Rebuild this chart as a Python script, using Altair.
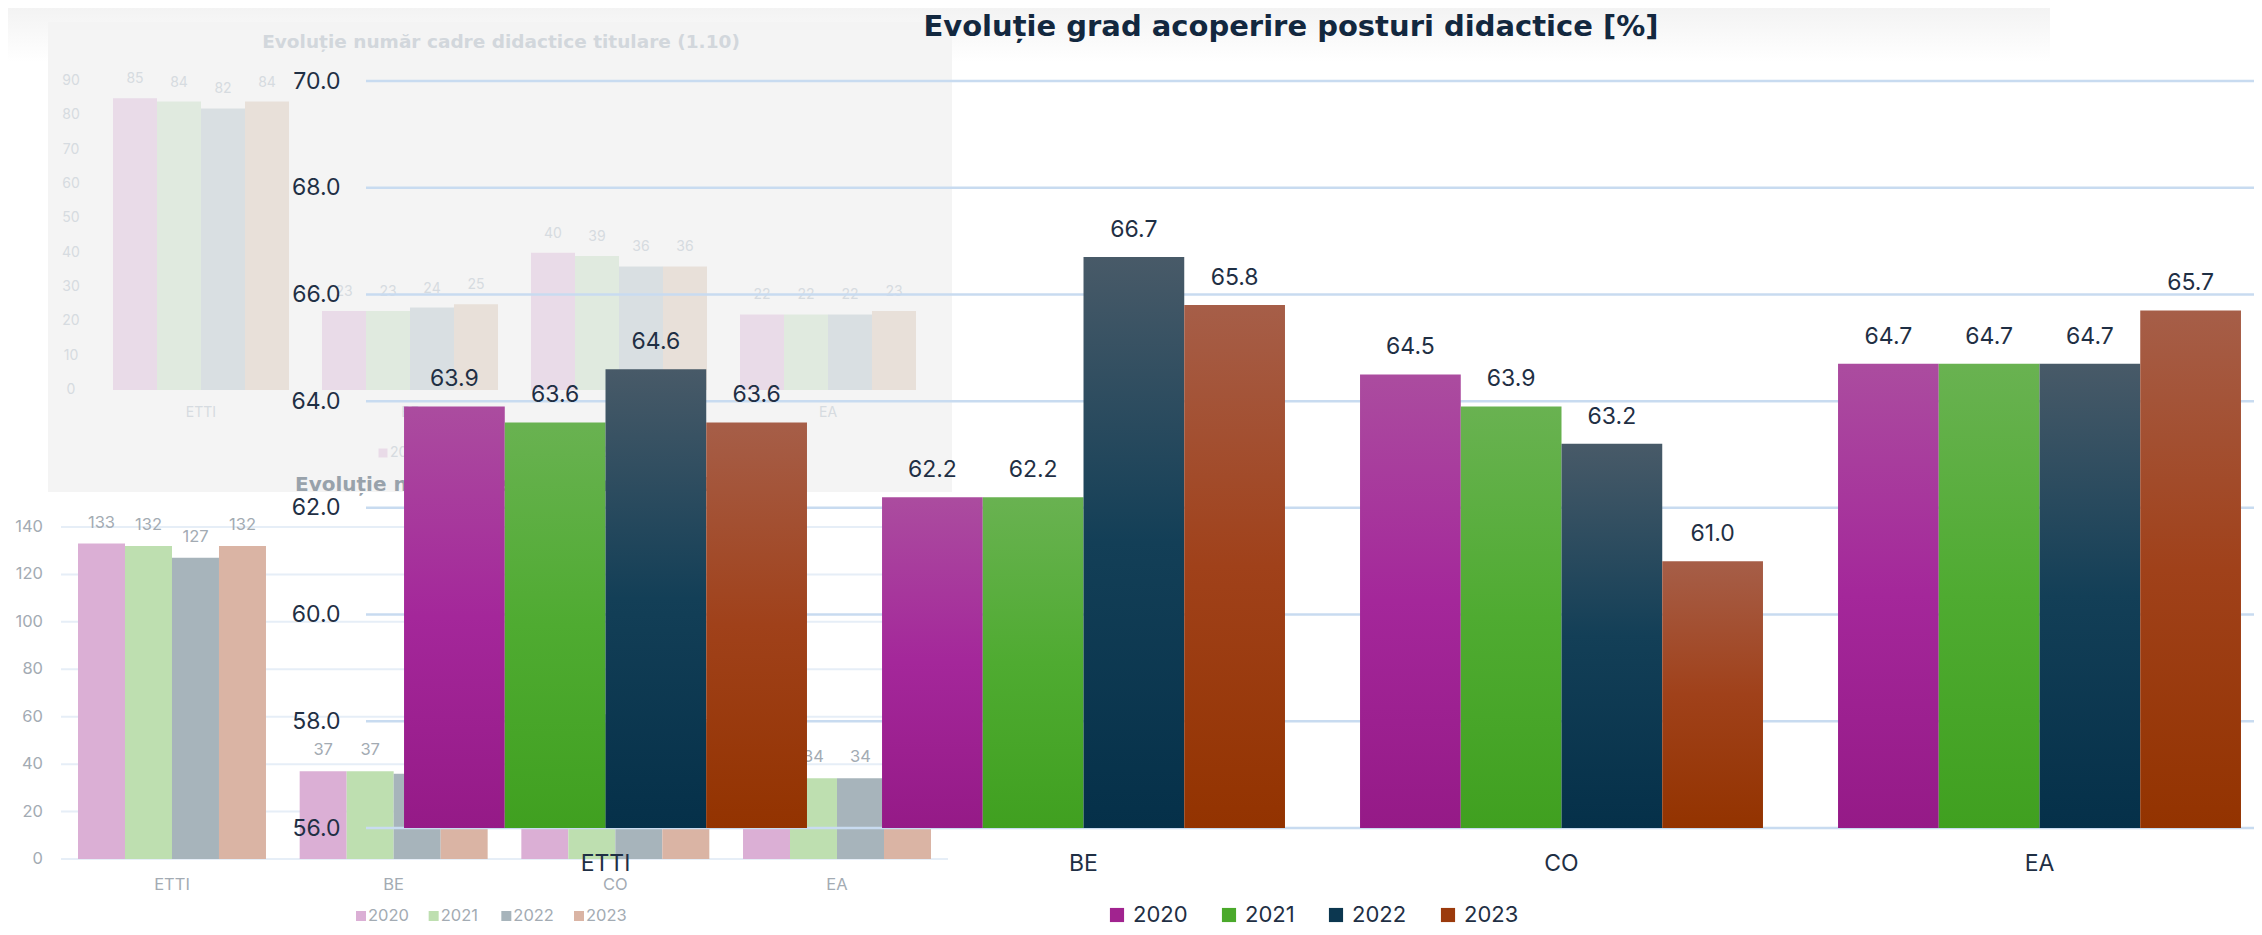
import altair as alt
import pandas as pd

# ---------------- data ----------------
categories = ["ETTI", "BE", "CO", "EA"]
years = ["2020", "2021", "2022", "2023"]

# main chart: coverage of teaching posts [%]
coverage_2020 = [63.9, 62.2, 64.5, 64.7]
coverage_2021 = [63.6, 62.2, 63.9, 64.7]
coverage_2022 = [64.6, 66.7, 63.2, 64.7]
coverage_2023 = [63.6, 65.8, 61.0, 65.7]
coverage_ticks = [56, 58, 60, 62, 64, 66, 68, 70]

# background chart 1: tenured teaching staff
titular_2020 = [85, 23, 40, 22]
titular_2021 = [84, 23, 39, 22]
titular_2022 = [82, 24, 36, 22]
titular_2023 = [84, 25, 36, 23]
titular_ticks = [0, 10, 20, 30, 40, 50, 60, 70, 80, 90]

# background chart 2: teaching posts
posts_2020 = [133, 37, 62, 34]
posts_2021 = [132, 37, 61, 34]
posts_2022 = [127, 36, 57, 34]
posts_2023 = [132, 38, 59, 35]
posts_ticks = [0, 20, 40, 60, 80, 100, 120, 140]

main_title = "Evoluție grad acoperire posturi didactice [%]"
bg1_title = "Evoluție număr cadre didactice titulare (1.10)"
bg2_title = "Evoluție număr posturi didactice (1.10)"

# ---------------- styles ----------------
FONT = "Inter"
TITLE_FONT = "DejaVu Sans"
TEXT = "#1f2f44"
main_colors = ["#a1238f", "#4aa92b", "#0c3750", "#9b3a0c"]
main_grad = {
    "2020": ["#ab4c9f", "#a4279a", "#951a87"],
    "2021": ["#69b251", "#4fab31", "#40a020"],
    "2022": ["#485a68", "#133f57", "#053049"],
    "2023": ["#a65e48", "#a0411a", "#933300"],
}
bg1_colors = ["#e9dbe8", "#e0eadf", "#d9dfe2", "#e8e0d9"]
bg1_text = "#d6dbe0"
bg2_colors = ["#dbafd5", "#bedfb0", "#a7b4bb", "#dab4a4"]
bg2_text = "#a3abb3"

# page position of main plot origin
OX, OY = 366, 81
W, H = 1888, 747


def X(p):
    return p - OX


def Y(p):
    return p - OY


def long(series):
    rows = []
    for yr, vals in zip(years, series):
        for c, v in zip(categories, vals):
            rows.append({"category": c, "year": yr, "value": v})
    return pd.DataFrame(rows)


one = pd.DataFrame({"k": [0]})

# ---------------- haze at top ----------------
haze = alt.Chart(one).mark_rect(
    color=alt.Gradient(gradient="linear",
                       stops=[alt.GradientStop(color="#f3f3f3", offset=0),
                              alt.GradientStop(color="#ffffff", offset=1)],
                       x1=0, x2=0, y1=0, y2=1)
).encode(x=alt.value(X(0)), x2=alt.value(X(2050)), y=alt.value(Y(8)), y2=alt.value(Y(62)))

# ---------------- background chart 1 ----------------
bg1_df = long([titular_2020, titular_2021, titular_2022, titular_2023])
bg1_xs = alt.Scale(domain=categories, range=[X(113), X(916)], paddingInner=0.158, paddingOuter=0)
bg1_ys = alt.Scale(domain=[0, 90], range=[Y(390), Y(81)], nice=False, zero=False)
bg1_x = alt.X("category:N", sort=categories, scale=bg1_xs, axis=None)
bg1_off = alt.XOffset("year:N", sort=years, scale=alt.Scale(domain=years, paddingInner=0, paddingOuter=0))
bg1_y = alt.Y("value:Q", scale=bg1_ys, axis=None)

bg1_panel = alt.Chart(one).mark_rect(color="#f4f4f4").encode(
    x=alt.value(X(48)), x2=alt.value(X(952)), y=alt.value(Y(22)), y2=alt.value(Y(492)))
bg1_bars = alt.Chart(bg1_df).mark_bar().encode(
    x=bg1_x, xOffset=bg1_off, y=bg1_y,
    color=alt.Color("year:N", scale=alt.Scale(domain=years, range=bg1_colors), legend=None))
bg1_vals = alt.Chart(bg1_df).mark_text(dy=-19, fontSize=14, font=FONT, color=bg1_text).encode(
    x=bg1_x, xOffset=bg1_off, y=bg1_y, text="value:Q")
bg1_ticks = alt.Chart(pd.DataFrame({"tick": titular_ticks})).mark_text(
    fontSize=14, font=FONT, color=bg1_text, align="center").encode(
    x=alt.value(X(71)), y=alt.Y("tick:Q", scale=bg1_ys, axis=None), text="tick:Q")
bg1_cats = alt.Chart(pd.DataFrame({"category": categories})).mark_text(
    fontSize=14, font=FONT, color=bg1_text).encode(x=bg1_x, y=alt.value(Y(413)), text="category:N")
bg1_ttl = alt.Chart(pd.DataFrame({"t": [bg1_title]})).mark_text(
    fontSize=18.5, fontWeight="bold", font=TITLE_FONT, color="#d2d7dc").encode(
    x=alt.value(X(501)), y=alt.value(Y(42)), text="t:N")
bg1 = alt.layer(bg1_panel, bg1_bars, bg1_vals, bg1_ticks, bg1_cats, bg1_ttl)

bg1_lx = alt.X("year:N", sort=years, scale=alt.Scale(type="point", domain=years,
                                                    range=[X(383), X(575)], padding=0), axis=None)
bg1_leg = alt.layer(
    alt.Chart(pd.DataFrame({"year": years})).mark_square(size=80, opacity=1).encode(
        x=bg1_lx, y=alt.value(Y(453)),
        color=alt.Color("year:N", scale=alt.Scale(domain=years, range=bg1_colors), legend=None)),
    alt.Chart(pd.DataFrame({"year": years})).mark_text(
        align="left", dx=7, fontSize=14, font=FONT, color=bg1_text).encode(
        x=bg1_lx, y=alt.value(Y(453)), text="year:N"),
)

# ---------------- background chart 2 ----------------
bg2_df = long([posts_2020, posts_2021, posts_2022, posts_2023])
bg2_xs = alt.Scale(domain=categories, range=[X(78), X(931)], paddingInner=0.152, paddingOuter=0)
bg2_ys = alt.Scale(domain=[0, 140], range=[Y(859), Y(527)], nice=False, zero=False)
bg2_x = alt.X("category:N", sort=categories, scale=bg2_xs, axis=None)
bg2_off = alt.XOffset("year:N", sort=years, scale=alt.Scale(domain=years, paddingInner=0, paddingOuter=0))
bg2_y = alt.Y("value:Q", scale=bg2_ys, axis=None)

bg2_grid = alt.Chart(pd.DataFrame({"tick": posts_ticks})).mark_rule(color="#e6eef7", strokeWidth=2).encode(
    x=alt.value(X(61)), x2=alt.value(X(948)), y=alt.Y("tick:Q", scale=bg2_ys, axis=None))
bg2_bars = alt.Chart(bg2_df).mark_bar().encode(
    x=bg2_x, xOffset=bg2_off, y=bg2_y,
    color=alt.Color("year:N", scale=alt.Scale(domain=years, range=bg2_colors), legend=None))
bg2_vals = alt.Chart(bg2_df).mark_text(dy=-21, fontSize=16.5, font=FONT, color=bg2_text).encode(
    x=bg2_x, xOffset=bg2_off, y=bg2_y, text="value:Q")
bg2_ticks = alt.Chart(pd.DataFrame({"tick": posts_ticks})).mark_text(
    fontSize=16.5, font=FONT, color=bg2_text, align="right").encode(
    x=alt.value(X(43)), y=alt.Y("tick:Q", scale=bg2_ys, axis=None), text="tick:Q")
bg2_cats = alt.Chart(pd.DataFrame({"category": categories})).mark_text(
    fontSize=16.5, font=FONT, color=bg2_text).encode(x=bg2_x, y=alt.value(Y(885)), text="category:N")
bg2_ttl = alt.Chart(pd.DataFrame({"t": [bg2_title]})).mark_text(
    fontSize=20, fontWeight="bold", font=TITLE_FONT, color="#98a2ab", align="left").encode(
    x=alt.value(X(295)), y=alt.value(Y(485)), text="t:N")
bg2 = alt.layer(bg2_grid, bg2_bars, bg2_vals, bg2_ticks, bg2_cats, bg2_ttl)

bg2_lx = alt.X("year:N", sort=years, scale=alt.Scale(type="point", domain=years,
                                                    range=[X(361), X(579)], padding=0), axis=None)
bg2_leg = alt.layer(
    alt.Chart(pd.DataFrame({"year": years})).mark_square(size=100, opacity=1).encode(
        x=bg2_lx, y=alt.value(Y(916)),
        color=alt.Color("year:N", scale=alt.Scale(domain=years, range=bg2_colors), legend=None)),
    alt.Chart(pd.DataFrame({"year": years})).mark_text(
        align="left", dx=7, fontSize=16.5, font=FONT, color=bg2_text).encode(
        x=bg2_lx, y=alt.value(Y(916)), text="year:N"),
)

# ---------------- main chart ----------------
main_df = long([coverage_2020, coverage_2021, coverage_2022, coverage_2023])
main_xs = alt.Scale(domain=categories, paddingInner=0.157, paddingOuter=0.0534, align=0.745)
main_ys = alt.Scale(domain=[56, 70], nice=False, zero=False)
x_axis = alt.Axis(title=None, labelAngle=0, labelFontSize=23, labelFont=FONT, labelColor=TEXT,
                  ticks=False, tickSize=0, domain=False, labelPadding=24, zindex=1)
y_axis = alt.Axis(title=None, values=coverage_ticks, format=".1f", labelFontSize=23, labelFont=FONT,
                  labelColor=TEXT, ticks=False, tickSize=0, domain=False, grid=False,
                  labelPadding=26, zindex=1)
m_x = alt.X("category:N", sort=categories, scale=main_xs, axis=x_axis)
m_off = alt.XOffset("year:N", sort=years, scale=alt.Scale(domain=years, paddingInner=0, paddingOuter=0))
m_y = alt.Y("value:Q", scale=main_ys, axis=y_axis)

m_grid = alt.Chart(pd.DataFrame({"tick": coverage_ticks})).mark_rule(
    color="#c8dbf0", strokeWidth=2.5).encode(y=alt.Y("tick:Q", scale=main_ys, axis=y_axis))

m_bars = []
for yr in years:
    c = main_grad[yr]
    grad = alt.Gradient(gradient="linear",
                        stops=[alt.GradientStop(color=c[0], offset=0),
                               alt.GradientStop(color=c[1], offset=0.5),
                               alt.GradientStop(color=c[2], offset=1)],
                        x1=0, x2=0, y1=0, y2=1)
    m_bars.append(
        alt.Chart(main_df).transform_filter(alt.datum.year == yr).mark_bar(color=grad).encode(
            x=m_x, xOffset=m_off, y=m_y, y2=alt.datum(56)))

m_vals = alt.Chart(main_df).mark_text(dy=-27, fontSize=23, font=FONT, color=TEXT).encode(
    x=m_x, xOffset=m_off, y=m_y, text=alt.Text("value:Q", format=".1f"))

m_leg = alt.Chart(main_df).mark_point(shape="square", filled=True, opacity=0).encode(
    x=m_x, xOffset=m_off, y=m_y,
    color=alt.Color("year:N", sort=years, scale=alt.Scale(domain=years, range=main_colors),
                    legend=alt.Legend(title=None, orient="none", direction="horizontal",
                                      legendX=X(1106), legendY=Y(904), symbolType="square",
                                      symbolSize=200, symbolOpacity=1, symbolStrokeWidth=0,
                                      labelFontSize=22, labelFont=FONT, labelColor=TEXT,
                                      labelOffset=5, columnPadding=30, padding=0)))

m_ttl = alt.Chart(pd.DataFrame({"t": [main_title]})).mark_text(
    fontSize=29, fontWeight="bold", font=TITLE_FONT, color="#13283f").encode(
    x=alt.value(X(1291)), y=alt.value(Y(27)), text="t:N")

main = alt.layer(m_grid, *m_bars, m_vals, m_leg, m_ttl)

chart = alt.layer(haze, bg1, bg1_leg, bg2, bg2_leg, main).resolve_scale(
    x="independent", y="independent", xOffset="independent", color="independent"
).properties(
    width=W, height=H,
    autosize=alt.AutoSizeParams(type="none"),
    padding={"left": 358, "top": 73, "right": 0, "bottom": 99},
).configure_view(stroke=None)

chart.save("out.html", embed_options={"renderer": "svg", "actions": False})
